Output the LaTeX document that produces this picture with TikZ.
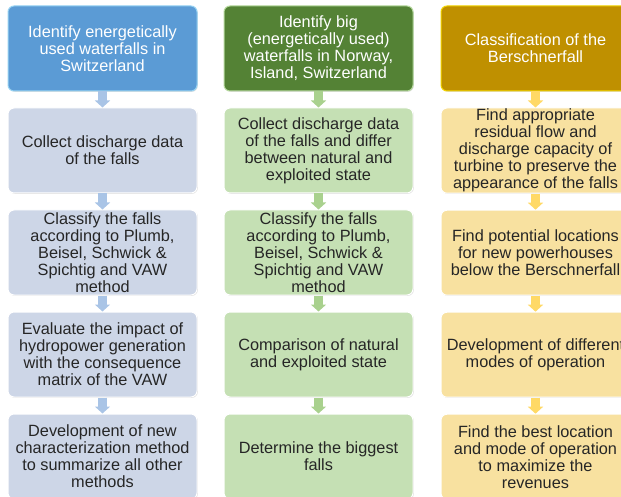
\documentclass[tikz,border=0pt]{standalone}
\usepackage{fontspec}
\setmainfont{Liberation Sans}
\usetikzlibrary{positioning}
\usetikzlibrary{arrows.meta}
\usetikzlibrary{shadows}

\definecolor{ch_head}{HTML}{5B9BD5}
\definecolor{ch_edge}{HTML}{96D2F2}
\definecolor{ch_box}{HTML}{CDD6E7}
\definecolor{ch_arrow}{HTML}{A9C4E6}
\definecolor{int_head}{HTML}{548235}
\definecolor{int_edge}{HTML}{B4D89C}
\definecolor{int_box}{HTML}{C5E0B4}
\definecolor{int_arrow}{HTML}{A9D18E}
\definecolor{bf_head}{HTML}{BF9000}
\definecolor{bf_edge}{HTML}{F2D400}
\definecolor{bf_box}{HTML}{F8E1A0}
\definecolor{bf_arrow}{HTML}{FFD966}

\begin{document}
\begin{tikzpicture}
            \useasboundingbox (0,0) rectangle (621pt,-497pt);
            \clip (0,0) rectangle (621pt,-497pt);

            \tikzstyle{step_node}=[rectangle, rounded corners=6pt, draw=white, line width=1pt, minimum width=189pt, minimum height=85pt, inner xsep=2pt, inner ysep=1pt, node distance=16pt, align=center, text=black!85, font=\fontsize{16.3}{17}\selectfont, drop shadow={shadow xshift=0.8pt, shadow yshift=-0.8pt, opacity=0.3, fill=black!45}];
            \tikzstyle{head_node}=[step_node, text=white];
            \tikzstyle{flow_arrow}=[line width=9pt, -{Triangle[width=15pt, length=7pt]}];

            % Switzerland column
            \node(head_ch) [head_node, fill=ch_head, draw=ch_edge] at (102.5pt,-48.5pt) {Identify energetically\\used waterfalls in\\Switzerland};
            \node(collect_ch) [step_node, fill=ch_box, below = of head_ch] {Collect discharge data\\of the falls};
            \node(classify_ch) [step_node, fill=ch_box, below = of collect_ch] {Classify the falls\\according to Plumb,\\Beisel, Schwick \&\\Spichtig and VAW\\method};
            \node(evaluate_ch) [step_node, fill=ch_box, below = of classify_ch] {Evaluate the impact of\\hydropower generation\\with the consequence\\matrix of the VAW};
            \node(method_ch) [step_node, fill=ch_box, below = of evaluate_ch] {Development of new\\characterization method\\to summarize all other\\methods};

            % International column
            \node(head_int) [head_node, fill=int_head, draw=int_edge, right = 26pt of head_ch] {Identify big\\(energetically used)\\waterfalls in Norway,\\Island, Switzerland};
            \node(collect_int) [step_node, fill=int_box, below = of head_int] {Collect discharge data\\of the falls and differ\\between natural and\\exploited state};
            \node(classify_int) [step_node, fill=int_box, below = of collect_int] {Classify the falls\\according to Plumb,\\Beisel, Schwick \&\\Spichtig and VAW\\method};
            \node(compare_int) [step_node, fill=int_box, below = of classify_int] {Comparison of natural\\and exploited state};
            \node(biggest_int) [step_node, fill=int_box, below = of compare_int] {Determine the biggest\\falls};

            % Berschnerfall column
            \node(head_bf) [head_node, fill=bf_head, draw=bf_edge, right = 27pt of head_int] {Classification of the\\Berschnerfall};
            \node(flow_bf) [step_node, fill=bf_box, below = of head_bf] {Find appropriate\\residual flow and\\discharge capacity of\\turbine to preserve the\\appearance of the falls};
            \node(site_bf) [step_node, fill=bf_box, below = of flow_bf] {Find potential locations\\for new powerhouses\\below the Berschnerfall};
            \node(modes_bf) [step_node, fill=bf_box, below = of site_bf] {Development of different\\modes of operation};
            \node(best_bf) [step_node, fill=bf_box, below = of modes_bf] {Find the best location\\and mode of operation\\to maximize the\\revenues};

            % arrows
            \draw[flow_arrow, ch_arrow] (head_ch) -- (collect_ch);
            \draw[flow_arrow, ch_arrow] (collect_ch) -- (classify_ch);
            \draw[flow_arrow, ch_arrow] (classify_ch) -- (evaluate_ch);
            \draw[flow_arrow, ch_arrow] (evaluate_ch) -- (method_ch);

            \draw[flow_arrow, int_arrow] (head_int) -- (collect_int);
            \draw[flow_arrow, int_arrow] (collect_int) -- (classify_int);
            \draw[flow_arrow, int_arrow] (classify_int) -- (compare_int);
            \draw[flow_arrow, int_arrow] (compare_int) -- (biggest_int);

            \draw[flow_arrow, bf_arrow] (head_bf) -- (flow_bf);
            \draw[flow_arrow, bf_arrow] (flow_bf) -- (site_bf);
            \draw[flow_arrow, bf_arrow] (site_bf) -- (modes_bf);
            \draw[flow_arrow, bf_arrow] (modes_bf) -- (best_bf);
        \end{tikzpicture}
\end{document}
